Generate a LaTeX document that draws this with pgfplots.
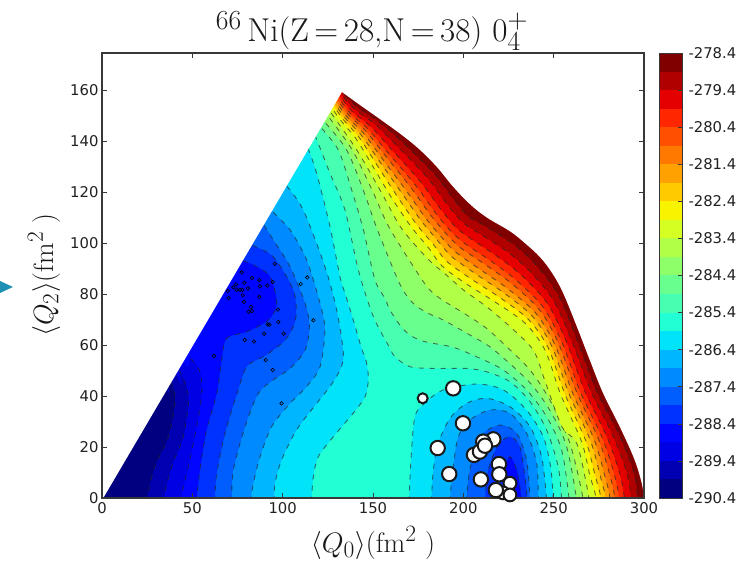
\documentclass[border=0pt]{standalone}
\usepackage[no-math]{fontspec}
\usepackage{pgfplots}
\pgfplotsset{compat=1.18}
\newfontfamily\djv{DejaVu Sans}
\definecolor{k0}{rgb}{0,0,.5}
\definecolor{k1}{rgb}{0,0,.698}
\definecolor{k2}{rgb}{0,0,.895}
\definecolor{k3}{rgb}{0,.022,1}
\definecolor{k4}{rgb}{0,.196,1}
\definecolor{k5}{rgb}{0,.37,1}
\definecolor{k6}{rgb}{0,.543,1}
\definecolor{k7}{rgb}{0,.717,1}
\definecolor{k8}{rgb}{0,.891,.974}
\definecolor{k9}{rgb}{.133,1,.835}
\definecolor{k10}{rgb}{.274,1,.694}
\definecolor{k11}{rgb}{.413,1,.555}
\definecolor{k12}{rgb}{.555,1,.413}
\definecolor{k13}{rgb}{.694,1,.274}
\definecolor{k14}{rgb}{.835,1,.133}
\definecolor{k15}{rgb}{.974,.956,0}
\definecolor{k16}{rgb}{1,.793,0}
\definecolor{k17}{rgb}{1,.633,0}
\definecolor{k18}{rgb}{1,.47,0}
\definecolor{k19}{rgb}{1,.31,0}
\definecolor{k20}{rgb}{1,.148,0}
\definecolor{k21}{rgb}{.895,0,0}
\definecolor{k22}{rgb}{.695,0,0}
\definecolor{k23}{rgb}{.5,0,0}
\definecolor{framec}{rgb}{.22,.22,.22}
\definecolor{txtc}{rgb}{.13,.13,.13}
\definecolor{teal1}{rgb}{.12,.57,.71}
\pgfplotsset{dashline/.style={draw=black!85,opacity=.65,line width=.9pt,dash pattern=on 5pt off 6pt,smooth,tension=.5,forget plot}}
\newcommand{\region}[3]{%
  \addplot[fill=#1,draw=none,smooth,tension=.5,forget plot] coordinates {#2 #3};
  \addplot[dashline] coordinates {#2};
}
\newcommand{\highcl}{(340,-10) (340,200) (110,200)}
\newcommand{\leftcl}{(-30,200) (-30,-10)}
\begin{document}
\begin{tikzpicture}[x=1pt,y=1pt]
\useasboundingbox (0,0) rectangle (740,562);
\fill[teal1] (0,281) -- (13,275) -- (0,269) -- cycle;
\begin{axis}[
  at={(102pt,64pt)},anchor=south west,scale only axis,
  width=542pt,height=445pt,
  xmin=0,xmax=300,ymin=0,ymax=174.5,
  xtick={0,50,100,150,200,250,300},
  ytick={0,20,40,60,80,100,120,140,160},
  axis on top,
  axis line style={draw=framec,line width=1.1pt},
  tick style={draw=framec,line width=.7pt},
  tick align=inside,
  major tick length=5pt,
  ticklabel style={font=\djv\fontsize{14.8}{16}\selectfont,text=txtc},
  /pgf/number format/assume math mode=true,
  xticklabel style={yshift=-1pt},
]
\addplot[fill=k9,draw=none,forget plot] coordinates {(-10,-10) (310,-10) (310,190) (-10,190)};

% low-energy basin on the left
\region{k8}{(116,-10) (116,-0.8) (117,8.4) (119.7,16.2) (128,24) (139,33.2) (145.6,39.7) (147.4,46.3) (146.5,52.8) (142.8,60.7) (139.1,69.8) (134.5,80.3) (131.7,86.8) (126.2,106.4) (118.8,127.3) (113.3,138.4) (106,149)}{\leftcl}
\region{k7}{(95.4,-10) (95.4,-0.8) (95.8,5.8) (99.4,14.9) (107.7,26.7) (118.8,37.1) (126.2,43.7) (131.7,50.2) (133.6,56.7) (129.9,73.7) (123.4,90.7) (111.4,112.9) (101.3,123.4) (94,132)}{\leftcl}
\region{k6}{(82.5,-10) (82.5,-0.8) (83.8,5.8) (87.5,16.2) (93.9,28) (104.1,37.1) (113.3,43.7) (120.7,51.5) (123.4,65.9) (120.7,76.3) (113.3,93.3) (104.1,105.1) (93.9,112.9) (85,123)}{\leftcl}
\region{k5}{(71.8,-10) (71.8,-0.8) (72.7,11) (79.2,28) (86.5,41) (94.8,46.3) (104.1,50.8) (112.4,58) (114.8,67.2) (112.4,76.3) (104.1,90.7) (94.8,101.2) (88.4,108.4) (82,116)}{\leftcl}
\region{k4}{(62.5,-10) (62.5,-0.8) (63.5,9.7) (68.1,25.4) (74.5,40.4) (80.1,51.5) (89.3,55.4) (98.5,60) (104.1,64.6) (107.4,71.1) (105.9,81.5) (94.8,94.6) (81.9,99.9) (75,108)}{\leftcl}
\region{k3}{(52.4,-10) (52.4,-0.8) (54.2,11) (57.9,26.7) (63.5,41) (66.2,54.1) (69,62.6) (80.1,65.2) (92.1,69.8) (96.7,76.3) (93,86.8) (83.8,91.4) (76.4,94) (68,103)}{\leftcl}
\region{k2}{(43.5,-10) (43.5,-0.8) (47.8,12.3) (52.4,28) (55.2,41) (54.5,49) (49,55) (40,62)}{\leftcl}
\region{k1}{(34,-10) (34,-0.8) (38.6,12.3) (45,24) (47.8,37) (47,43) (43.5,49) (38,55)}{\leftcl}
\region{k0}{(24.7,-10) (24.7,-0.8) (29.3,12.3) (36.7,24) (40.4,37.1) (39.5,43) (36.5,47.5) (32,51)}{\leftcl}

% well near (225,0)
\region{k8}{(170.1,-10) (170.1,-0.8) (170.8,12.3) (173.2,31.9) (179.7,37.8) (188.9,42.4) (207.3,44.7) (222.1,42.4) (235,34.5) (244.2,24.1) (248.3,12.3) (249.8,-0.8) (249.8,-10)}{}
\region{k7}{(182.4,-10) (182.4,-0.8) (183.4,11) (186.1,21.4) (192.6,31.2) (201.8,37.1) (212.9,39.1) (225.8,35.8) (236.9,28) (243.3,16.2) (246.1,-0.8) (246.1,-10)}{}
\region{k6}{(192.6,-10) (192.6,-0.8) (194.4,12.3) (197.2,24) (203.6,30.6) (214.7,34.5) (225.8,33.2) (235,25.4) (240.6,13.6) (241.5,-0.8) (241.5,-10)}{}
\region{k5}{(201.8,-10) (201.8,-0.8) (203.6,11) (209.2,24) (220.3,28.6) (229.5,25.4) (235,14.9) (236.9,-0.8) (236.9,-10)}{}
\region{k4}{(212,-10) (212,-0.8) (213.8,11) (219.3,20.8) (225.8,24) (231.3,20.1) (234.1,8.4) (235.4,-0.8) (235.4,-10)}{}
\region{k3}{(222.1,-10) (222.1,-0.8) (223,11) (225.8,16.2) (229.5,11) (232.2,-0.8) (232.2,-10)}{}

% rising flank on the right
\region{k10}{(112,150) (117.4,143) (126.2,127.3) (134.5,112.9) (141.9,89.4) (150.2,71.1) (159.4,58.7) (162.1,55.4) (170.4,51.5) (183.4,50.8) (201.8,50.8) (212.9,49.5) (225.8,45.6) (236.9,37.8) (246.1,26.7) (252.5,12.3) (254.4,-0.8) (254.4,-10)}{\highcl}
\region{k11}{(115,152) (120.3,146.1) (130.8,136.5) (138.2,120.8) (144.7,105.1) (151.1,85.5) (156.6,78.3) (159.4,73.7) (164.9,67.8) (170.4,63.9) (178.7,61.3) (194.4,59.1) (209.2,54.8) (222.1,50.2) (235,42.4) (246.1,31.9) (254.4,18.8) (258.6,-0.8) (258.6,-10)}{\highcl}
\region{k12}{(117,154) (122.5,148.2) (135.4,136.5) (145,120) (152,106) (163,86.8) (167.7,80.3) (173.2,75.7) (180.6,72.4) (188.9,69.8) (203.7,63.9) (214.7,59.3) (227.6,51.5) (238.7,43.7) (248.9,33.2) (257.2,20.1) (262.7,-0.8) (262.7,-10)}{\highcl}
\region{k13}{(119,156) (124,150.9) (138.5,136.5) (150,120) (159,106) (176,86.8) (182.4,80.9) (189.8,77) (201.8,71.8) (212.9,66.5) (224.9,58.7) (236.9,50.2) (247.9,38.4) (259,21.4) (266.4,-0.8) (266.4,-10)}{\highcl}
\region{k14}{(120,158) (125.5,152.3) (141,136.5) (154.5,120) (165.5,106) (180,94) (190.7,87.4) (200,81.6) (212.9,75) (225.8,67.2) (238.7,58) (245,46.3) (254.5,28) (263,21) (269.7,-0.8) (269.7,-10)}{\highcl}
\region{k15}{(121,158.5) (126.6,153.4) (132.8,147.5) (141.1,140.4) (151.1,128.6) (161,116.9) (171.6,105.9) (180.4,98.4) (188.2,91) (200.9,84.3) (217.5,76.9) (234.1,68.6) (245.2,58) (254,40.4) (265.5,22) (270,9) (273.4,0) (273.4,-10)}{\highcl}
\region{k16}{(123,159) (127.5,154.5) (133.8,148.2) (142.4,141.3) (152.7,130) (163.6,118.1) (174.2,107.2) (183,99.8) (190.7,92.9) (203.9,86.1) (220,78.7) (236.2,69.9) (247.1,58.7) (256.3,40.6) (267.8,22.4) (272.8,9.2) (276.1,0) (276.1,-10)}{\highcl}
\region{k17}{(124,160) (128.2,155.2) (134.8,148.8) (143.6,142.2) (154.2,131.4) (166.2,119.3) (176.9,108.5) (185.5,101.2) (193.3,94.8) (207,87.8) (222.5,80.4) (238.3,71.2) (249.1,59.3) (258.5,40.8) (270.2,22.8) (275.5,9.4) (278.7,0) (278.7,-10)}{\highcl}
\region{k18}{(125,161) (129,156) (135.7,149.4) (144.8,143) (155.6,132.6) (168.5,120.4) (179.3,109.6) (187.8,102.4) (195.6,96.5) (209.7,89.4) (224.7,82) (240.2,72.4) (250.8,59.9) (260.6,41) (272.3,23.1) (278,9.6) (281.1,0) (281.1,-10)}{\highcl}
\region{k19}{(126,162) (129.7,156.8) (136.7,150.1) (146,143.9) (157.1,134) (171.1,121.6) (181.9,110.9) (190.3,103.8) (198.1,98.3) (212.8,91.2) (227.2,83.8) (242.3,73.7) (252.7,60.6) (262.9,41.2) (274.6,23.5) (280.8,9.8) (283.8,0) (283.8,-10)}{\highcl}
\region{k20}{(127,163) (130.4,157.6) (137.6,150.7) (147.2,144.7) (158.5,135.2) (173.5,122.7) (184.3,112.1) (192.6,105) (200.4,100) (215.5,92.8) (229.5,85.3) (244.2,74.8) (254.5,61.2) (264.9,41.4) (276.7,23.9) (283.3,10) (286.2,0) (286.2,-10)}{\highcl}
\region{k21}{(128,164) (131.2,158.3) (138.7,151.4) (148.6,145.7) (160.2,136.7) (176.3,124) (187.2,113.5) (195.4,106.5) (203.2,102.1) (218.8,94.7) (232.2,87.3) (246.5,76.3) (256.6,62) (267.4,41.6) (279.3,24.3) (286.3,10.2) (289.1,0) (289.1,-10)}{\highcl}
\region{k22}{(129,165) (131.9,159) (140.1,152.3) (150.4,147) (162.4,138.7) (180,125.7) (190.9,115.3) (199,108.5) (206.7,104.7) (223.1,97.2) (235.7,89.7) (249.4,78.1) (259.3,62.9) (270.6,41.9) (282.6,24.8) (290.2,10.5) (292.8,0) (292.8,-10)}{\highcl}
\region{k23}{(130,166) (132.6,159.6) (141.5,153.2) (152.1,148.2) (164.6,140.6) (183.6,127.4) (194.7,117.1) (202.6,110.4) (210.3,107.4) (227.3,99.7) (239.2,92.2) (252.4,79.9) (262,63.8) (273.7,42.1) (285.9,25.4) (294.1,10.7) (296.5,0) (296.5,-10)}{\highcl}

% white outside the domain
\addplot[fill=white,draw=none,forget plot] coordinates {(0.7,-5) (0.7,0) (132.8,159.2) (132.8,190) (-10,190) (-10,-5)};
\addplot[fill=white,draw=none,smooth,tension=.6,forget plot] coordinates {(132.8,159.2) (142.8,154.1) (153.8,148.6) (166.6,142) (176,136.5) (185.4,129.8) (194.2,122.2) (203.7,115.2) (213,110) (225.8,104.6) (234,100) (242.4,94.5) (249,88.4) (255.1,80.6) (262.9,67.1) (270,54.1) (277.3,41.2) (286.7,27.8) (294.5,15.5) (298.5,6.5) (300,0) (301,-10) (330,-10) (330,190) (132.8,190)};

% small points in the left basin
\addplot[only marks,mark=o,mark size=1.8pt,mark options={draw=black,line width=.6pt},forget plot] coordinates {
(77.3,88.5) (83,86.3) (87.1,85.4) (78.8,84.4) (95.6,91.8) (94.5,84.7) (91.5,83.3) (87.4,83) (80.8,82.2) (74.2,83.8)
(69.6,81.2) (72.7,82.6) (74.5,81.7) (76.4,81.6) (77.7,81.6) (70.1,78.4) (77.9,79.5) (87.1,78.8) (78.6,76.9) (82.5,74.9)
(81.2,73.1) (83,73.3) (97.4,73.9) (97.6,69) (92.6,68) (91.7,68.1) (89.7,64.4) (100.5,64.4) (79,62) (84.1,61.4)
(62,55.7) (90.6,54.1) (94.5,50.2) (110,83.9) (113.6,86.5) (117,69.7) (99.4,37.1)};

% large white points in the well
\addplot[only marks,mark=*,mark size=5pt,mark options={draw=black!90,fill=white,line width=2pt},forget plot] coordinates {(177.5,39.1)};
\addplot[only marks,mark=*,mark size=7.2pt,mark options={draw=black!90,fill=white,line width=2pt},forget plot] coordinates {
(194.4,43) (199.8,29.3) (185.8,19.6) (192.2,9.4) (209.7,7.3) (216.6,23) (211,22.1) (205.9,16.9) (209.2,18.2) (212,20.5) (219.7,13.3) (219.9,9.3)};
\addplot[only marks,mark=*,mark size=6.4pt,mark options={draw=black!90,fill=white,line width=2pt},forget plot] coordinates {(225.8,5.8) (222,2) (225.8,1.2)};
\addplot[only marks,mark=*,mark size=7.2pt,mark options={draw=black!90,fill=white,line width=2pt},forget plot] coordinates {(218,3.1)};
\end{axis}

% colour bar
\begin{axis}[
  at={(659pt,64pt)},anchor=south west,scale only axis,
  width=23pt,height=445pt,
  xmin=0,xmax=1,ymin=-290.4,ymax=-278.4,
  xtick=\empty,
  ytick={-290.4,-289.4,-288.4,-287.4,-286.4,-285.4,-284.4,-283.4,-282.4,-281.4,-280.4,-279.4,-278.4},
  yticklabels={-290.4,-289.4,-288.4,-287.4,-286.4,-285.4,-284.4,-283.4,-282.4,-281.4,-280.4,-279.4,-278.4},
  ytick pos=right,
  axis on top,
  axis line style={draw=framec,line width=.9pt},
  tick style={draw=framec,line width=.6pt},
  tick align=inside,
  major tick length=4pt,
  ticklabel style={font=\djv\fontsize{14.8}{16}\selectfont,text=txtc},
  yticklabel style={anchor=west,xshift=3pt},
]
\addplot[fill=k0,draw=none,forget plot] coordinates {(0,-290.4) (1,-290.4) (1,-289.9) (0,-289.9)};
\addplot[fill=k1,draw=none,forget plot] coordinates {(0,-289.9) (1,-289.9) (1,-289.4) (0,-289.4)};
\addplot[fill=k2,draw=none,forget plot] coordinates {(0,-289.4) (1,-289.4) (1,-288.9) (0,-288.9)};
\addplot[fill=k3,draw=none,forget plot] coordinates {(0,-288.9) (1,-288.9) (1,-288.4) (0,-288.4)};
\addplot[fill=k4,draw=none,forget plot] coordinates {(0,-288.4) (1,-288.4) (1,-287.9) (0,-287.9)};
\addplot[fill=k5,draw=none,forget plot] coordinates {(0,-287.9) (1,-287.9) (1,-287.4) (0,-287.4)};
\addplot[fill=k6,draw=none,forget plot] coordinates {(0,-287.4) (1,-287.4) (1,-286.9) (0,-286.9)};
\addplot[fill=k7,draw=none,forget plot] coordinates {(0,-286.9) (1,-286.9) (1,-286.4) (0,-286.4)};
\addplot[fill=k8,draw=none,forget plot] coordinates {(0,-286.4) (1,-286.4) (1,-285.9) (0,-285.9)};
\addplot[fill=k9,draw=none,forget plot] coordinates {(0,-285.9) (1,-285.9) (1,-285.4) (0,-285.4)};
\addplot[fill=k10,draw=none,forget plot] coordinates {(0,-285.4) (1,-285.4) (1,-284.9) (0,-284.9)};
\addplot[fill=k11,draw=none,forget plot] coordinates {(0,-284.9) (1,-284.9) (1,-284.4) (0,-284.4)};
\addplot[fill=k12,draw=none,forget plot] coordinates {(0,-284.4) (1,-284.4) (1,-283.9) (0,-283.9)};
\addplot[fill=k13,draw=none,forget plot] coordinates {(0,-283.9) (1,-283.9) (1,-283.4) (0,-283.4)};
\addplot[fill=k14,draw=none,forget plot] coordinates {(0,-283.4) (1,-283.4) (1,-282.9) (0,-282.9)};
\addplot[fill=k15,draw=none,forget plot] coordinates {(0,-282.9) (1,-282.9) (1,-282.4) (0,-282.4)};
\addplot[fill=k16,draw=none,forget plot] coordinates {(0,-282.4) (1,-282.4) (1,-281.9) (0,-281.9)};
\addplot[fill=k17,draw=none,forget plot] coordinates {(0,-281.9) (1,-281.9) (1,-281.4) (0,-281.4)};
\addplot[fill=k18,draw=none,forget plot] coordinates {(0,-281.4) (1,-281.4) (1,-280.9) (0,-280.9)};
\addplot[fill=k19,draw=none,forget plot] coordinates {(0,-280.9) (1,-280.9) (1,-280.4) (0,-280.4)};
\addplot[fill=k20,draw=none,forget plot] coordinates {(0,-280.4) (1,-280.4) (1,-279.9) (0,-279.9)};
\addplot[fill=k21,draw=none,forget plot] coordinates {(0,-279.9) (1,-279.9) (1,-279.4) (0,-279.4)};
\addplot[fill=k22,draw=none,forget plot] coordinates {(0,-279.4) (1,-279.4) (1,-278.9) (0,-278.9)};
\addplot[fill=k23,draw=none,forget plot] coordinates {(0,-278.9) (1,-278.9) (1,-278.4) (0,-278.4)};
\end{axis}

\node[anchor=center,inner sep=0pt,text=black!90,scale=1.33,transform shape] at (372,531) {\fontsize{24.88}{28}\selectfont $^{66}\,$Ni(Z$\,$=$\,$28,N$\,$=$\,$38) $0_4^{+}$};
\node[anchor=center,inner sep=0pt,text=black!90,scale=1.13,transform shape] at (373,19) {\fontsize{24.88}{28}\selectfont $\langle Q_0\rangle$(fm$^2$ )};
\node[anchor=center,inner sep=0pt,rotate=90,text=black!90,scale=1.12,transform shape] at (44,287) {\fontsize{24.88}{28}\selectfont $\langle Q_2\rangle$(fm$^2$ )};
\end{tikzpicture}
\end{document}
